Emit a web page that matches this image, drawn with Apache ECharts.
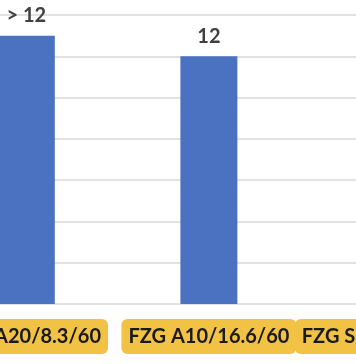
<!DOCTYPE html>
<html><head><meta charset="utf-8">
<script src="https://cdn.jsdelivr.net/npm/echarts@6/dist/echarts.min.js"></script>
<style>html,body{margin:0;padding:0;overflow:hidden;background:#fff;width:356px;height:364px;position:relative}
#c{position:absolute;left:-65px;top:0;width:555px;height:364px}</style>
</head><body><div id="c"></div>
<script>
const categories = ['FZG A20/8.3/60', 'FZG A10/16.6/60', 'FZG S-A10/16.6/90'];
const values = [13, 12, 12];
const barLabels = ['> 12', '12', '12'];
const yTicks = [0, 2, 4, 6, 8, 10, 12, 14];

const chart = echarts.init(document.getElementById('c'), null, {renderer: 'canvas'});
chart.setOption({
  animation: false,
  grid: {left: 0, right: 0, top: 15, bottom: 60, containLabel: false},
  xAxis: {
    type: 'category', data: categories,
    axisLine: {show: false}, axisTick: {show: false},
    axisLabel: {
      margin: 15, interval: 0,
      formatter: v => '{b|' + v + '}',
      rich: {b: {backgroundColor: '#F2C245', borderRadius: 6, padding: [8, 7, 7, 7],
        fontFamily: 'Lato', fontWeight: 'bold', fontSize: 20, color: '#1a1a1a'}}
    }
  },
  yAxis: {
    type: 'value', min: yTicks[0], max: yTicks[yTicks.length - 1], interval: 2,
    axisLabel: {show: false}, axisLine: {show: false}, axisTick: {show: false},
    splitLine: {lineStyle: {color: '#d9d9d9', width: 1.5}}
  },
  series: [{
    type: 'bar', data: values, barWidth: 57,
    itemStyle: {color: '#4A72C0'},
    label: {show: true, position: 'top', distance: 10,
      formatter: p => barLabels[p.dataIndex],
      fontFamily: 'Lato', fontWeight: 'bold', fontSize: 20, color: '#404040'}
  }]
});
</script></body></html>
